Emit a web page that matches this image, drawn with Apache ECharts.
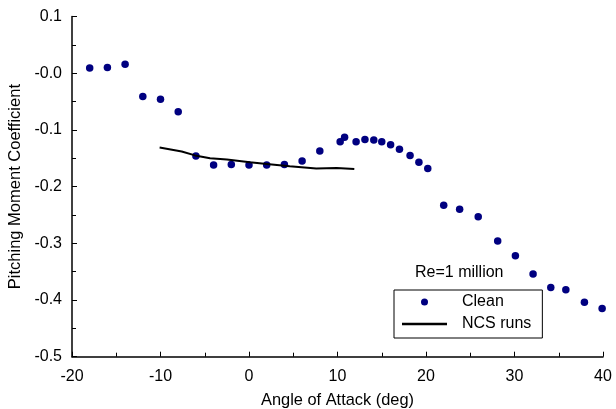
<!DOCTYPE html>
<html>
<head>
<meta charset="utf-8">
<script src="https://cdn.jsdelivr.net/npm/echarts@6/dist/echarts.min.js"></script>
<style>
  html, body { margin: 0; padding: 0; background: #fff; }
  #chart { width: 616px; height: 409px; }
</style>
</head>
<body>
<div id="chart"></div>
<script>
// clean airfoil, angle of attack (deg) and pitching moment
const cleanAoA = [-18, -16, -14, -12, -10, -8, -6, -4, -2, 0, 2, 4, 6, 8,
  10.3, 10.8, 12.1, 13.1, 14.1, 15, 16, 17, 18.2, 19.2, 20.2,
  22, 23.8, 25.9, 28.1, 30.1, 32.1, 34.1, 35.8, 37.9, 39.9];
const cleanCm = [0.009, 0.010, 0.016, -0.041, -0.046, -0.068, -0.146, -0.162, -0.161, -0.162, -0.162, -0.161, -0.155, -0.137,
  -0.121, -0.113, -0.121, -0.117, -0.118, -0.121, -0.126, -0.134, -0.145, -0.157, -0.168,
  -0.233, -0.240, -0.253, -0.296, -0.322, -0.354, -0.378, -0.382, -0.404, -0.415];

// NCS runs
const ncsAoA = [-10.1, -7.6, -6.1, -4.4, -2.5, 0.1, 2, 4.6, 7.6, 9.9, 11.9];
const ncsCm = [-0.131, -0.138, -0.145, -0.150, -0.152, -0.157, -0.160, -0.164, -0.168, -0.167, -0.169];

const yTickLabels = ['-0.5', '-0.4', '-0.3', '-0.2', '-0.1', '-0.0', '0.1'];
const noteText = 'Re=1 million';

const font = 'Arial, "Liberation Sans", sans-serif';
let myChart = echarts.init(document.getElementById('chart'));

let option = {
  animation: false,
  grid: { left: 72, right: 13, top: 16.5, bottom: 52.3, outerBoundsMode: 'none', containLabel: false },
  xAxis: {
    type: 'value',
    min: -20, max: 40, interval: 10,
    name: 'Angle of Attack (deg)',
    nameLocation: 'middle',
    nameGap: 36,
    nameTextStyle: { color: '#000', fontSize: 16.4, fontFamily: font },
    axisLine: { onZero: false, lineStyle: { color: '#000', width: 1.5 } },
    axisTick: { inside: true, length: 5, lineStyle: { color: '#000' } },
    minorTick: { show: true, splitNumber: 2, length: 4, lineStyle: { color: '#000' } },
    splitLine: { show: false },
    axisLabel: { color: '#000', fontSize: 16, fontFamily: font, margin: 12 }
  },
  yAxis: {
    type: 'value',
    min: -0.5, max: 0.1, interval: 0.1,
    name: 'Pitching Moment Coefficient',
    nameLocation: 'middle',
    nameGap: 40,
    nameTextStyle: { color: '#000', fontSize: 16.5, fontFamily: font },
    axisLine: { show: true, onZero: false, lineStyle: { color: '#000', width: 1.5 } },
    axisTick: { show: true, inside: true, length: 5, lineStyle: { color: '#000' } },
    minorTick: { show: true, splitNumber: 2, length: 4, lineStyle: { color: '#000' } },
    splitLine: { show: false },
    axisLabel: {
      color: '#000', fontSize: 16, fontFamily: font, margin: 10,
      formatter: v => yTickLabels[Math.round((v + 0.5) * 10)]
    }
  },
  legend: {
    orient: 'vertical',
    left: 394, top: 290,
    padding: [4, 11, 6, 8],
    itemGap: 6,
    itemWidth: 45, itemHeight: 7,
    borderColor: '#000', borderWidth: 1,
    backgroundColor: '#fff',
    textStyle: { color: '#000', fontSize: 16, fontFamily: font, padding: [0, 0, 0, 10] },
    data: [
      { name: 'Clean', icon: 'circle' },
      { name: 'NCS runs', icon: 'path://M0,0H45V2.5H0Z' }
    ]
  },
  graphic: [{
    type: 'text', left: 415, top: 265,
    style: { text: noteText, fill: '#000', fontSize: 16, fontFamily: font }
  }],
  series: [
    {
      name: 'Clean', type: 'scatter',
      symbol: 'circle', symbolSize: 7.5,
      itemStyle: { color: '#000080', opacity: 1 },
      data: cleanAoA.map((a, i) => [a, cleanCm[i]])
    },
    {
      name: 'NCS runs', type: 'line',
      showSymbol: false, symbol: 'none',
      lineStyle: { color: '#000', width: 2 },
      itemStyle: { color: '#000' },
      data: ncsAoA.map((a, i) => [a, ncsCm[i]])
    }
  ]
};
myChart.setOption(option);
</script>
</body>
</html>
